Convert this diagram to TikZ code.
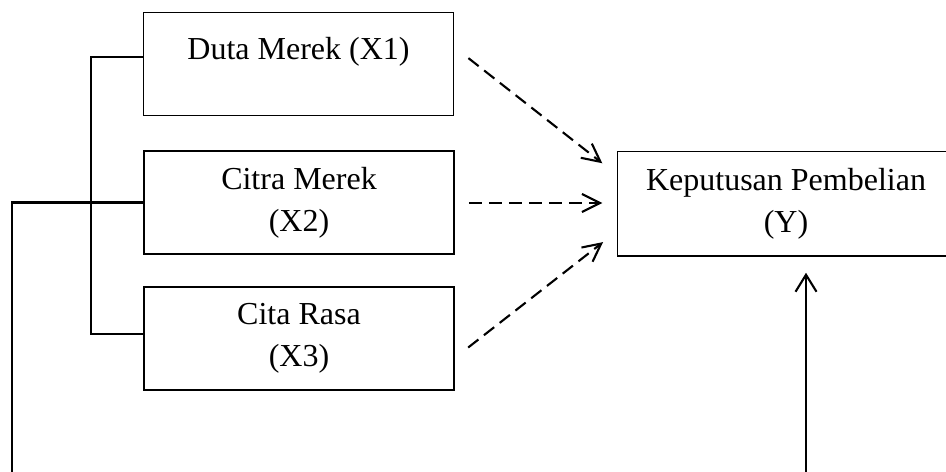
\documentclass[tikz,border=0pt]{standalone}
\usepackage{fontspec}
\setmainfont{Liberation Serif}
\usetikzlibrary{arrows.meta}
\begin{document}
\begin{tikzpicture}[x=0.5pt,y=-0.5pt,
        box/.style={draw, line width=0.75pt, minimum width=155pt, minimum height=51.5pt,
            inner sep=0pt, align=center, font=\fontsize{16}{21}\selectfont},
        conn/.style={line width=1.05pt},
        dasharrow/.style={line width=1.05pt, dash pattern=on 6.5pt off 3.5pt,
            -{Straight Barb[length=9pt,width=9pt]}},
        solidarrow/.style={line width=1.05pt, -{Straight Barb[length=8.5pt,width=10.5pt]}}]
    \useasboundingbox (0,0) rectangle (946,471);
    % variabel bebas
    \node[box] (x1) at (298.5,64) {Duta Merek (X1)\\[-5pt]\mbox{}};
    \node[box] (x2) at (299,202.5) {Citra Merek\\(X2)};
    \node[box] (x3) at (299,338.5) {Cita Rasa\\(X3)};
    % variabel terikat (kotak terpotong di tepi kanan)
    \node[box, draw=none, minimum width=168pt] (y) at (786,203.5) {Keputusan Pembelian\\(Y)};
    \draw[line width=0.75pt] (y.north west) rectangle ([xshift=20pt]y.south east);
    % garis kiri
    \coordinate (brtop) at (91,57);
    \coordinate (brbot) at (91,334);
    \draw[conn] (x1.west |- brtop) -- (brtop) -- (brbot) -- (x3.west |- brbot);
    \coordinate (lefttop) at (12,202.5);
    \coordinate (leftbot) at (12,475);
    \draw[conn] (leftbot) -- (lefttop) -- (x2.west);
    % panah parsial
    \draw[dasharrow, shorten <=9pt, shorten >=9.5pt] (x1.east |- 0,47) -- (y.west |- 0,175);
    \draw[dasharrow, shorten <=7pt, shorten >=7.5pt] (x2.east |- 0,203) -- (y.west |- 0,203);
    \draw[dasharrow, shorten <=8.5pt, shorten >=9pt] (x3.east |- 0,358) -- (y.west |- 0,231);
    % panah simultan
    \coordinate (ybot) at (806,475);
    \draw[solidarrow, shorten >=8.5pt] (ybot) -- (ybot |- y.south);
\end{tikzpicture}
\end{document}
